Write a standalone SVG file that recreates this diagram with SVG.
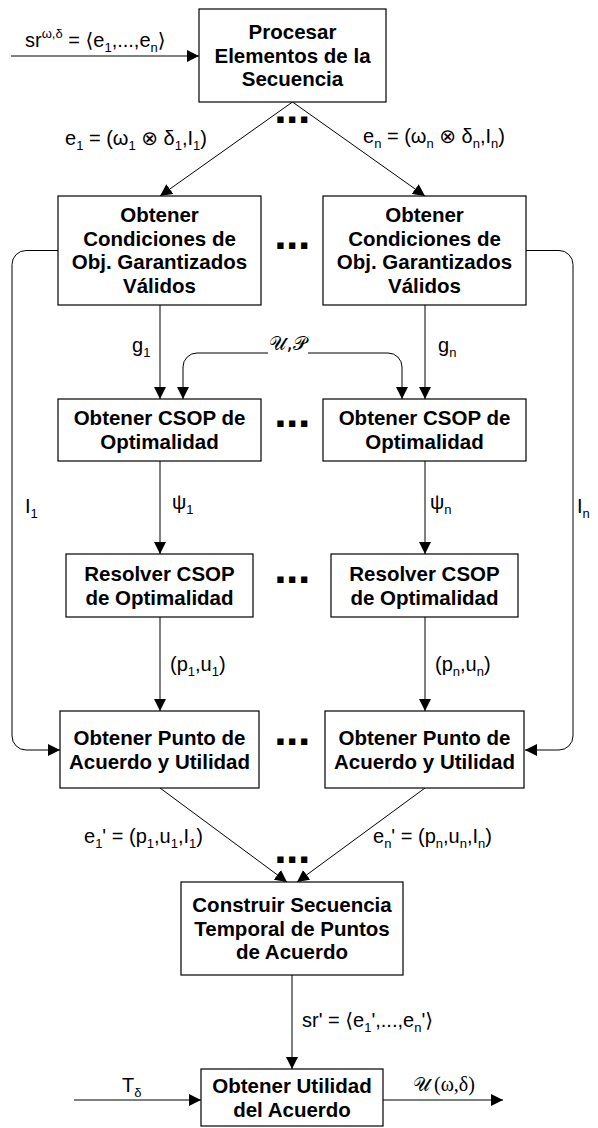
<svg xmlns="http://www.w3.org/2000/svg" width="598" height="1128" viewBox="0 0 598 1128">
  <style>
    .box { fill: #fff; stroke: #000; stroke-width: 1.2; }
    .bt { font-family: "Liberation Sans", Arial, sans-serif; font-weight: bold; font-size: 20.5px; text-anchor: middle; fill: #000; }
    .lb { font-family: "Liberation Sans", Arial, "DejaVu Sans", sans-serif; font-size: 20px; fill: #000; }
    .sc { font-family: "DejaVu Sans", "DejaVu Serif", serif; font-size: 19px; fill: #000; }
    .sub { font-size: 13px; }
    .dots { font-family: "Liberation Sans", Arial, sans-serif; font-weight: bold; font-size: 30px; letter-spacing: 3.5px; text-anchor: middle; fill: #000; stroke: #000; stroke-width: 2; stroke-linejoin: miter; }
    .wire { fill: none; stroke: #000; stroke-width: 1; }
    .arr { marker-end: url(#ah); }
  </style>
  <defs>
    <marker id="ah" markerWidth="12" markerHeight="12" refX="12" refY="6" orient="auto" markerUnits="userSpaceOnUse">
      <path d="M0,0 L12,6 L0,12 Z" fill="#000"/>
    </marker>
  </defs>

  <!-- connectors -->
  <g id="connectors">
    <line class="wire arr" x1="11" y1="56" x2="199" y2="56"/>
    <line class="wire arr" x1="292.5" y1="102" x2="160" y2="196"/>
    <line class="wire arr" x1="292.5" y1="102" x2="425" y2="196"/>
    <line class="wire arr" x1="160" y1="305" x2="160" y2="399"/>
    <line class="wire arr" x1="425" y1="305" x2="425" y2="399"/>
    <path class="wire arr" d="M268,353 H197 A14,14 0 0 0 183,367 V399"/>
    <path class="wire arr" d="M308,353 H388 A14,14 0 0 1 402,367 V399"/>
    <line class="wire arr" x1="160" y1="461" x2="160" y2="554"/>
    <line class="wire arr" x1="425" y1="461" x2="425" y2="554"/>
    <line class="wire arr" x1="160" y1="617" x2="160" y2="711"/>
    <line class="wire arr" x1="425" y1="617" x2="425" y2="711"/>
    <path class="wire arr" d="M58,250.5 H26 A14,14 0 0 0 12,264.5 V736 A14,14 0 0 0 26,750 H60"/>
    <path class="wire arr" d="M526,250.5 H559 A14,14 0 0 1 573,264.5 V736 A14,14 0 0 1 559,750 H525"/>
    <line class="wire arr" x1="160" y1="788" x2="287" y2="882"/>
    <line class="wire arr" x1="425" y1="788" x2="297" y2="882"/>
    <line class="wire arr" x1="292" y1="975" x2="292" y2="1069"/>
    <line class="wire arr" x1="74" y1="1100" x2="201" y2="1100"/>
    <line class="wire arr" x1="383" y1="1100" x2="503" y2="1100"/>
  </g>

  <!-- connector labels -->
  <g id="labels">
    <text class="lb" x="25" y="47">sr<tspan class="sub" dy="-9">ω,δ</tspan><tspan dy="9"> = ⟨e</tspan><tspan class="sub" dy="5">1</tspan><tspan dy="-5">,...,e</tspan><tspan class="sub" dy="5">n</tspan><tspan dy="-5">⟩</tspan></text>
    <text class="lb" x="65" y="145">e<tspan class="sub" dy="5">1</tspan><tspan dy="-5"> = (ω</tspan><tspan class="sub" dy="5">1</tspan><tspan dy="-5"> ⊗ δ</tspan><tspan class="sub" dy="5">1</tspan><tspan dy="-5">,I</tspan><tspan class="sub" dy="5">1</tspan><tspan dy="-5">)</tspan></text>
    <text class="lb" x="363" y="143">e<tspan class="sub" dy="5">n</tspan><tspan dy="-5"> = (ω</tspan><tspan class="sub" dy="5">n</tspan><tspan dy="-5"> ⊗ δ</tspan><tspan class="sub" dy="5">n</tspan><tspan dy="-5">,I</tspan><tspan class="sub" dy="5">n</tspan><tspan dy="-5">)</tspan></text>
    <text class="lb" x="132" y="352">g<tspan class="sub" dy="5">1</tspan></text>
    <text class="lb" x="438" y="352">g<tspan class="sub" dy="5">n</tspan></text>
    <text class="sc" x="288" y="350" text-anchor="middle">𝒰,𝒫</text>
    <text class="lb" x="25" y="513">I<tspan class="sub" dy="5">1</tspan></text>
    <text class="lb" x="577" y="513">I<tspan class="sub" dy="5">n</tspan></text>
    <text class="lb" x="172" y="509">ψ<tspan class="sub" dy="5">1</tspan></text>
    <text class="lb" x="430" y="509">ψ<tspan class="sub" dy="5">n</tspan></text>
    <text class="lb" x="170" y="671">(p<tspan class="sub" dy="5">1</tspan><tspan dy="-5">,u</tspan><tspan class="sub" dy="5">1</tspan><tspan dy="-5">)</tspan></text>
    <text class="lb" x="435" y="671">(p<tspan class="sub" dy="5">n</tspan><tspan dy="-5">,u</tspan><tspan class="sub" dy="5">n</tspan><tspan dy="-5">)</tspan></text>
    <text class="lb" x="84" y="843">e<tspan class="sub" dy="5">1</tspan><tspan dy="-5">' = (p</tspan><tspan class="sub" dy="5">1</tspan><tspan dy="-5">,u</tspan><tspan class="sub" dy="5">1</tspan><tspan dy="-5">,I</tspan><tspan class="sub" dy="5">1</tspan><tspan dy="-5">)</tspan></text>
    <text class="lb" x="373" y="843">e<tspan class="sub" dy="5">n</tspan><tspan dy="-5">' = (p</tspan><tspan class="sub" dy="5">n</tspan><tspan dy="-5">,u</tspan><tspan class="sub" dy="5">n</tspan><tspan dy="-5">,I</tspan><tspan class="sub" dy="5">n</tspan><tspan dy="-5">)</tspan></text>
    <text class="lb" x="302" y="1027">sr' = ⟨e<tspan class="sub" dy="5">1</tspan><tspan dy="-5">',...,e</tspan><tspan class="sub" dy="5">n</tspan><tspan dy="-5">'⟩</tspan></text>
    <text class="lb" x="122" y="1092">T<tspan class="sub" dy="5">δ</tspan></text>
    <text class="lb" x="413" y="1091"><tspan class="sc">𝒰</tspan><tspan font-family="Liberation Serif, serif" dx="4">(ω,δ)</tspan></text>
  </g>

  <!-- continuation marks between parallel branches -->
  <g id="ellipses">
    <text class="dots" x="294" y="122">...</text>
    <text class="dots" x="294" y="248">...</text>
    <text class="dots" x="294" y="426">...</text>
    <text class="dots" x="294" y="582">...</text>
    <text class="dots" x="294" y="744">...</text>
    <text class="dots" x="294" y="862">...</text>
  </g>

  <g id="procesar">
    <rect class="box" x="199" y="9" width="187" height="93"/>
    <text class="bt" x="292.5" y="39">Procesar</text>
    <text class="bt" x="292.5" y="62.7">Elementos de la</text>
    <text class="bt" x="292.5" y="86.4">Secuencia</text>
  </g>

  <g id="condiciones-1">
    <rect class="box" x="58" y="196" width="203" height="109"/>
    <text class="bt" x="159.5" y="222">Obtener</text>
    <text class="bt" x="159.5" y="245.7">Condiciones de</text>
    <text class="bt" x="159.5" y="269.4">Obj. Garantizados</text>
    <text class="bt" x="159.5" y="293">Válidos</text>
  </g>
  <g id="condiciones-n">
    <rect class="box" x="323" y="196" width="203" height="109"/>
    <text class="bt" x="424.5" y="222">Obtener</text>
    <text class="bt" x="424.5" y="245.7">Condiciones de</text>
    <text class="bt" x="424.5" y="269.4">Obj. Garantizados</text>
    <text class="bt" x="424.5" y="293">Válidos</text>
  </g>

  <g id="csop-1">
    <rect class="box" x="58" y="399" width="203" height="62"/>
    <text class="bt" x="159.5" y="425.3">Obtener CSOP de</text>
    <text class="bt" x="159.5" y="449">Optimalidad</text>
  </g>
  <g id="csop-n">
    <rect class="box" x="323" y="399" width="203" height="62"/>
    <text class="bt" x="424.5" y="425.3">Obtener CSOP de</text>
    <text class="bt" x="424.5" y="449">Optimalidad</text>
  </g>

  <g id="resolver-1">
    <rect class="box" x="66" y="554" width="187" height="63"/>
    <text class="bt" x="159.5" y="580.8">Resolver CSOP</text>
    <text class="bt" x="159.5" y="604.5">de Optimalidad</text>
  </g>
  <g id="resolver-n">
    <rect class="box" x="331" y="554" width="187" height="63"/>
    <text class="bt" x="424.5" y="580.8">Resolver CSOP</text>
    <text class="bt" x="424.5" y="604.5">de Optimalidad</text>
  </g>

  <g id="punto-1">
    <rect class="box" x="60" y="711" width="199" height="77"/>
    <text class="bt" x="159.5" y="744.8">Obtener Punto de</text>
    <text class="bt" x="159.5" y="768.5">Acuerdo y Utilidad</text>
  </g>
  <g id="punto-n">
    <rect class="box" x="325" y="711" width="199" height="77"/>
    <text class="bt" x="424.5" y="744.8">Obtener Punto de</text>
    <text class="bt" x="424.5" y="768.5">Acuerdo y Utilidad</text>
  </g>

  <g id="construir">
    <rect class="box" x="181" y="882" width="222" height="93"/>
    <text class="bt" x="292" y="912">Construir Secuencia</text>
    <text class="bt" x="292" y="935.7">Temporal de Puntos</text>
    <text class="bt" x="292" y="959.4">de Acuerdo</text>
  </g>

  <g id="utilidad">
    <rect class="box" x="201" y="1069" width="182" height="57"/>
    <text class="bt" x="292" y="1093.4">Obtener Utilidad</text>
    <text class="bt" x="292" y="1117">del Acuerdo</text>
  </g>
</svg>
